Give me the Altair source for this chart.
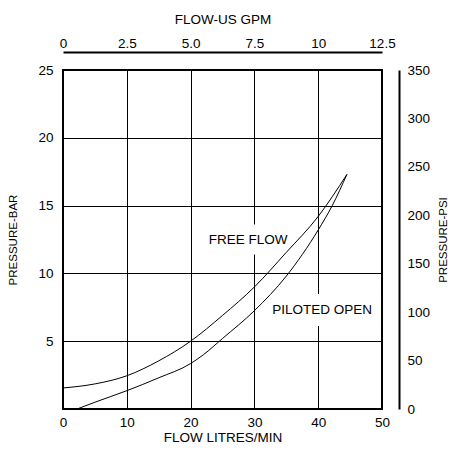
import altair as alt
import pandas as pd

# ---- data ----
free_x = [0, 5, 10, 15, 20, 25, 30, 35, 40, 44.5]
free_y = [1.55, 1.85, 2.45, 3.55, 5.0, 6.9, 9.0, 11.55, 14.2, 17.3]
pil_x = [2.2, 5, 10, 15, 20, 22, 25, 30, 35, 40, 42.2, 44.5]
pil_y = [0, 0.5, 1.35, 2.3, 3.35, 4.0, 5.2, 7.25, 9.8, 13.2, 15.0, 17.3]

label_text = ["FREE FLOW", "PILOTED OPEN"]
label_x = [29.0, 40.6]
label_y = [12.5, 7.3]

lpm_ticks = [0, 10, 20, 30, 40, 50]
bar_ticks = [0, 5, 10, 15, 20, 25]
gpm_ticks = [0, 2.5, 5.0, 7.5, 10, 12.5]
psi_ticks = [0, 50, 100, 150, 200, 250, 300, 350]

FONT = "Liberation Sans"
FS = 13.5

curves = pd.DataFrame(
    {"lpm": free_x + pil_x,
     "bar": free_y + pil_y,
     "series": ["FREE FLOW"] * len(free_x) + ["PILOTED OPEN"] * len(pil_x),
     "order": list(range(len(free_x))) + list(range(len(pil_x)))}
)
labels = pd.DataFrame({"text": label_text, "lpm": label_x, "bar": label_y})
gpm_df = pd.DataFrame({"gpm": gpm_ticks})
psi_df = pd.DataFrame({"psi": psi_ticks})

xscale = alt.Scale(domain=[0, 50], nice=False, zero=False)
yscale = alt.Scale(domain=[0, 25], nice=False, zero=False)

x_axis = alt.Axis(values=lpm_ticks, title="FLOW LITRES/MIN", orient="bottom",
                  ticks=False, domain=False, grid=True, gridColor="black",
                  gridWidth=1, gridOpacity=1, labelPadding=6, titlePadding=2,
                  labelFlush=False, labelFontSize=FS, titleFontSize=FS)
y_axis = alt.Axis(values=bar_ticks, title="PRESSURE-BAR", orient="left",
                  ticks=False, domain=False, grid=True, gridColor="black",
                  gridWidth=1, gridOpacity=1, labelPadding=10, titlePadding=19,
                  labelExpr="datum.value == 0 ? '' : datum.label", labelFlush=False,
                  labelFontSize=FS, titleFontSize=11.5)

X = alt.X("lpm:Q", scale=xscale, axis=x_axis)
Y = alt.Y("bar:Q", scale=yscale, axis=y_axis)

# white backing boxes behind the two curve labels (they interrupt the grid)
box_free = alt.Chart(labels.iloc[[0]]).mark_point(
    shape="M-1,-0.3125L1,-0.3125L1,0.3125L-1,0.3125Z",
    size=96 * 96, filled=True, fill="white", fillOpacity=1, strokeWidth=0, opacity=1,
).encode(x=X, y=Y)
box_pil = alt.Chart(labels.iloc[[1]]).mark_point(
    shape="M-1,-0.27L1,-0.27L1,0.27L-1,0.27Z",
    size=118 * 118, filled=True, fill="white", fillOpacity=1, strokeWidth=0, opacity=1,
).encode(x=X, y=Y)

lines = alt.Chart(curves).mark_line(color="black", strokeWidth=1, interpolate="monotone").encode(
    x=X, y=Y, detail="series:N", order="order:Q"
)

texts = alt.Chart(labels).mark_text(font=FONT, fontSize=FS, color="black").encode(
    x=X, y=Y, text="text:N",
)

main = alt.layer(box_free, box_pil, lines, texts)

top_axis = alt.Chart(gpm_df).mark_point(opacity=0).encode(
    x=alt.X("gpm:Q", scale=alt.Scale(domain=[0, 12.5], nice=False, zero=False),
            axis=alt.Axis(orient="top", values=gpm_ticks, ticks=False, domain=True,
                          domainColor="black", domainWidth=2, offset=18,
                          labelPadding=2, title="FLOW-US GPM", titlePadding=10,
                          grid=False, labelFlush=False,
                          labelFontSize=FS, titleFontSize=FS,
                          labelExpr="datum.value == 0 ? '0' : datum.value == 10 ? '10' : format(datum.value, '.1f')"))
)

right_axis = alt.Chart(psi_df).mark_point(opacity=0).encode(
    y=alt.Y("psi:Q", scale=alt.Scale(domain=[0, 350], nice=False, zero=False),
            axis=alt.Axis(orient="right", values=psi_ticks, ticks=False, domain=True,
                          domainColor="black", domainWidth=2, offset=17,
                          labelPadding=8, title="PRESSURE-PSI", titleAngle=-90,
                          titleBaseline="top", titlePadding=8, grid=False,
                          labelFlush=False, labelFontSize=FS, titleFontSize=11.5))
)

chart = alt.layer(main, top_axis, right_axis).resolve_scale(
    x="independent", y="independent"
).properties(
    width=319,
    height=339,
    autosize=alt.AutoSizeParams(type="none"),
    padding={"left": 55, "top": 62, "right": 67, "bottom": 35},
).configure_view(
    stroke="black", strokeWidth=2
).configure_axis(
    labelFont=FONT, titleFont=FONT,
    titleFontWeight="normal", labelColor="black", titleColor="black",
)

chart.save("out.html", embed_options={"renderer": "svg", "actions": False})
